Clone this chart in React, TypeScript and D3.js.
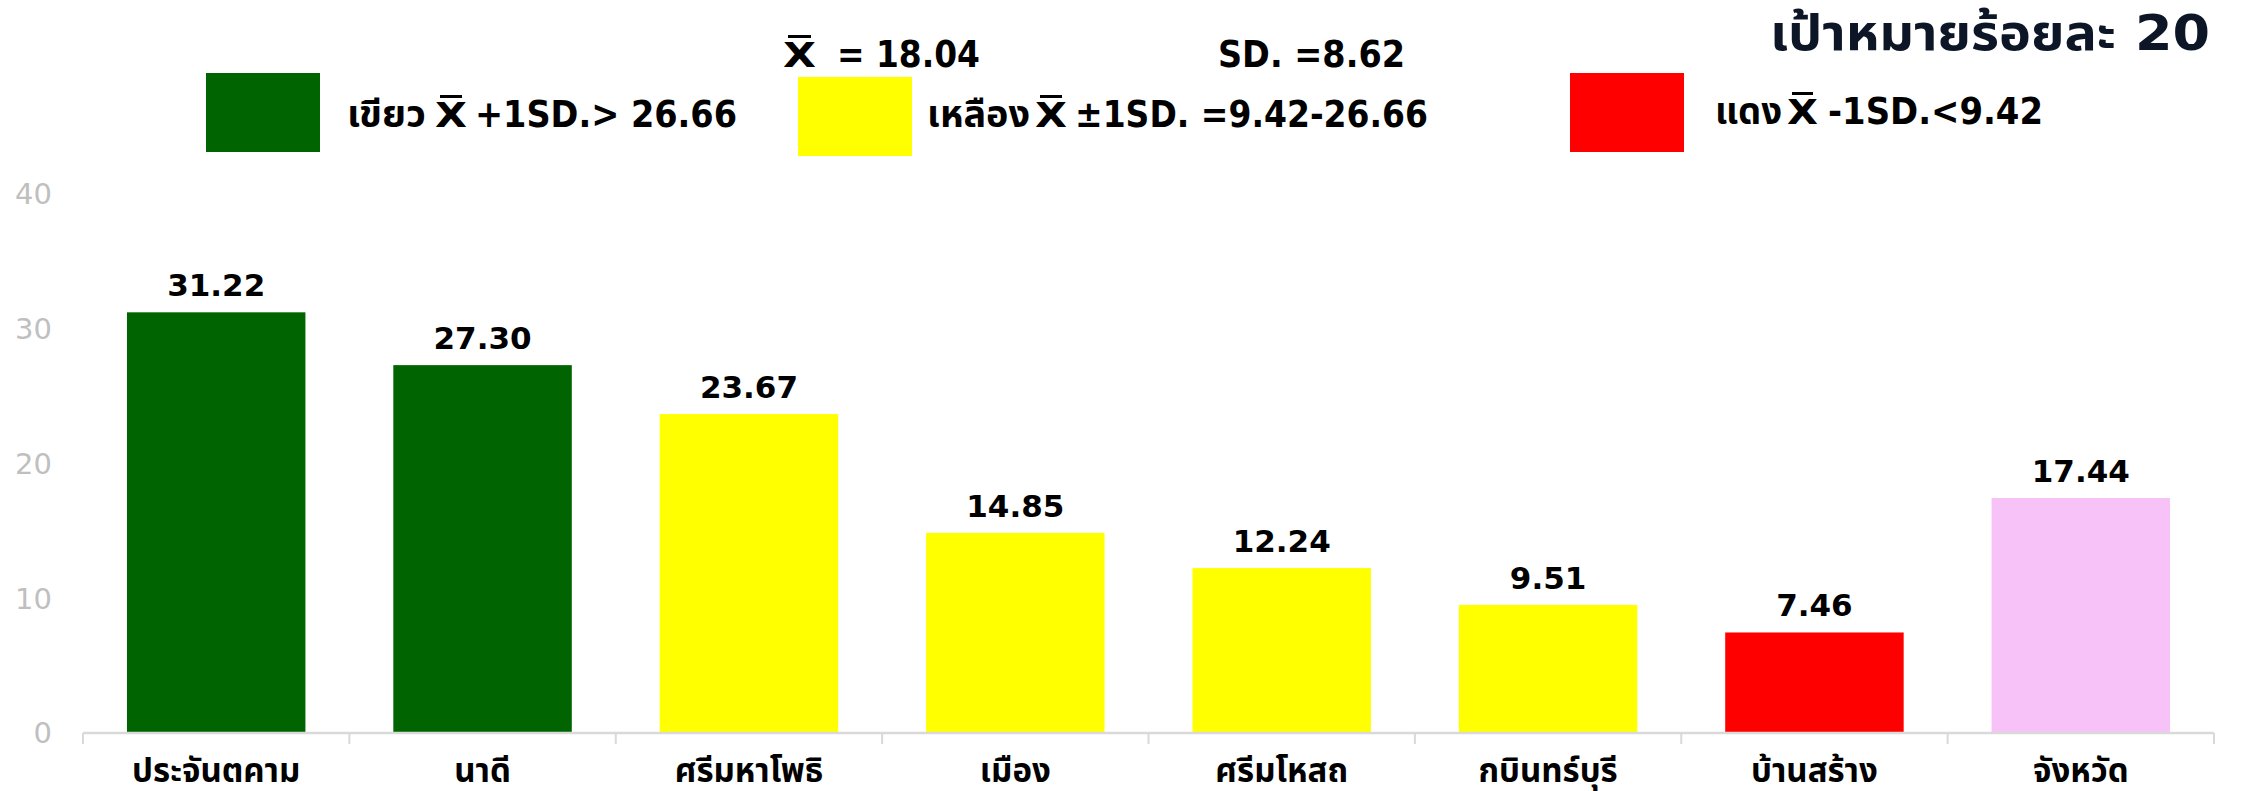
import React from "react";
import * as d3 from "d3";

const categories = ["ประจันตคาม", "นาดี", "ศรีมหาโพธิ", "เมือง", "ศรีมโหสถ", "กบินทร์บุรี", "บ้านสร้าง", "จังหวัด"];
const values = [31.22, 27.3, 23.67, 14.85, 12.24, 9.51, 7.46, 17.44];
const barColors = ["#006400", "#006400", "#ffff00", "#ffff00", "#ffff00", "#ffff00", "#ff0000", "#f7c2f8"];
const yTicks = [0, 10, 20, 30, 40];
const title = "เป้าหมายร้อยละ 20";
const meanValue = "= 18.04";
const sdText = "SD. =8.62";
const legendColors = ["#006400", "#ffff00", "#ff0000"];
const legendNames = ["เขียว", "เหลือง", "แดง"];
const legendRules = ["+1SD.> 26.66", "±1SD. =9.42-26.66", "-1SD.<9.42"];

const W = 2242;
const H = 791;
const FONT = "Tahoma, 'DejaVu Sans', 'Noto Sans Thai', 'Noto Sans', sans-serif";

// layout (pixels)
const legendRects = [
  { x: 206, y: 73, w: 114, h: 79 },
  { x: 798, y: 77, w: 114, h: 79 },
  { x: 1570, y: 73, w: 114, h: 79 },
];
const legendSeg = [
  { name: [347, 79], xbar: [435, 32], rule: [475, 262], base: 127 },
  { name: [927, 103], xbar: [1035, 32], rule: [1075, 353], base: 127 },
  { name: [1715, 67], xbar: [1787, 31], rule: [1828, 215], base: 124 },
];

function XBar({ x, w, base }: { x: number; w: number; base: number }) {
  return (
    <g>
      <text x={x} y={base} fontFamily="'DejaVu Sans', sans-serif" fontWeight="bold" fontSize={33} fill="#000" textLength={w} lengthAdjust="spacingAndGlyphs">
        X
      </text>
      <rect x={x + 5} y={base - 32} width={w - 10} height={3} fill="#000" />
    </g>
  );
}

export default function App() {
  const x = d3.scaleBand<string>().domain(categories).range([83, 2214]).paddingInner(0.33).paddingOuter(0.165);
  const y = d3.scaleLinear().domain([0, 40]).range([733, 194]);
  const step = x.step();
  const boundaries = categories.map((c) => (x(c) as number) - (step * 0.33) / 2).concat([2214]);

  return (
    <svg width={W} height={H} style={{ position: "absolute", left: 0, top: 0, background: "#fff" }}>
      {/* Title */}
      <text x={1770} y={50} fontFamily={FONT} fontWeight="bold" fontSize={49} fill="#0c1626" textLength={440} lengthAdjust="spacingAndGlyphs">
        {title}
      </text>
      {/* Mean and SD */}
      <XBar x={783} w={33} base={67} />
      <text x={837} y={67} fontFamily={FONT} fontWeight="bold" fontSize={38} fill="#000" textLength={143} lengthAdjust="spacingAndGlyphs">
        {meanValue}
      </text>
      <text x={1218} y={67} fontFamily={FONT} fontWeight="bold" fontSize={38} fill="#000" textLength={187} lengthAdjust="spacingAndGlyphs">
        {sdText}
      </text>

      {/* Legend */}
      {legendColors.map((col, i) => {
        const s = legendSeg[i];
        return (
          <g key={i}>
            <rect x={legendRects[i].x} y={legendRects[i].y} width={legendRects[i].w} height={legendRects[i].h} fill={col} />
            <text x={s.name[0]} y={s.base} fontFamily={FONT} fontWeight="bold" fontSize={38} fill="#000" textLength={s.name[1]} lengthAdjust="spacingAndGlyphs">
              {legendNames[i]}
            </text>
            <XBar x={s.xbar[0]} w={s.xbar[1]} base={s.base} />
            <text x={s.rule[0]} y={s.base} fontFamily={FONT} fontWeight="bold" fontSize={38} fill="#000" textLength={s.rule[1]} lengthAdjust="spacingAndGlyphs">
              {legendRules[i]}
            </text>
          </g>
        );
      })}

      {/* Y tick labels */}
      {yTicks.map((t) => (
        <text key={t} x={52} y={y(t)} dy="0.36em" textAnchor="end" fontFamily={FONT} fontSize={29} fill="#bfbfbf">
          {t}
        </text>
      ))}

      {/* Bars */}
      {categories.map((c, i) => (
        <rect key={c} x={x(c)} y={y(values[i])} width={x.bandwidth()} height={y(0) - y(values[i])} fill={barColors[i]} />
      ))}

      {/* Axis */}
      <line x1={83} x2={2214} y1={y(0)} y2={y(0)} stroke="#d9d9d9" strokeWidth={2.5} />
      {boundaries.map((b, i) => (
        <line key={i} x1={b} x2={b} y1={y(0)} y2={y(0) + 11} stroke="#d9d9d9" strokeWidth={2} />
      ))}

      {/* Value labels */}
      {categories.map((c, i) => (
        <text key={c} x={(x(c) as number) + x.bandwidth() / 2} y={y(values[i]) - 16} textAnchor="middle" fontFamily={FONT} fontWeight="bold" fontSize={31} fill="#000">
          {values[i].toFixed(2)}
        </text>
      ))}

      {/* Category labels */}
      {categories.map((c) => (
        <text key={c} x={(x(c) as number) + x.bandwidth() / 2} y={782} textAnchor="middle" fontFamily={FONT} fontWeight="bold" fontSize={33} fill="#000">
          {c}
        </text>
      ))}
    </svg>
  );
}
